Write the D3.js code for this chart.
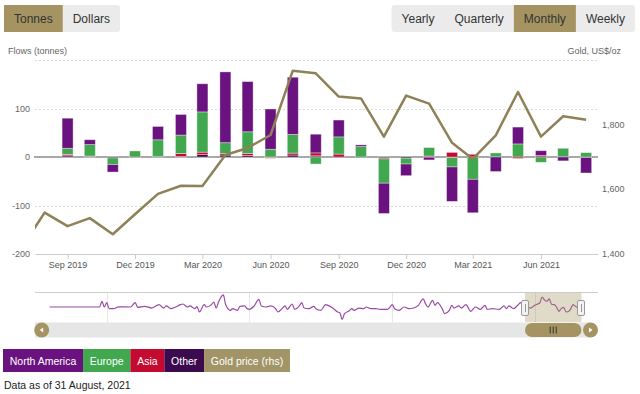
<!DOCTYPE html>
<html>
<head>
<meta charset="utf-8">
<script src="https://cdn.jsdelivr.net/npm/d3@7"></script>
<style>
body { margin: 0; background: #fff; }
svg { display: block; font-family: "Liberation Sans", Arial, sans-serif; }
</style>
</head>
<body>
<svg width="640" height="394"></svg>
<script>
// gold price, month end, US$/oz
var goldMonths = ["2019-07", "2019-08", "2019-09", "2019-10", "2019-11", "2019-12",
    "2020-01", "2020-02", "2020-03", "2020-04", "2020-05", "2020-06",
    "2020-07", "2020-08", "2020-09", "2020-10", "2020-11", "2020-12",
    "2021-01", "2021-02", "2021-03", "2021-04", "2021-05", "2021-06",
    "2021-07", "2021-08"];
var goldPrice = [1419, 1528, 1486, 1511, 1461, 1523, 1586, 1611, 1610, 1706, 1728, 1768,
    1967, 1959, 1887, 1881, 1763, 1890, 1865, 1744, 1694, 1767, 1901, 1763, 1826, 1815];

// flows (tonnes)
var flowMonths = ["2019-09", "2019-10", "2019-11", "2019-12",
    "2020-01", "2020-02", "2020-03", "2020-04", "2020-05", "2020-06",
    "2020-07", "2020-08", "2020-09", "2020-10", "2020-11", "2020-12",
    "2021-01", "2021-02", "2021-03", "2021-04", "2021-05", "2021-06",
    "2021-07", "2021-08"];
var northAmerica = [62, 10, -15.5, 0, 27.5, 42.5, 58, 146, 103.5, 83, 118, 38.5,
    34.7, 3.5, -62.5, -24, -5.5, -71, -69, -30, 34.7, 10, -8, -32];
var europe = [12.5, 23.6, -13.5, 12.5, 34, 38, 83, 22, 44.5, 16, 38.5, -14.5,
    35.5, 21.5, -50, -12, 17.5, -19, -46, 8.3, 27, -11, 18, 9];
var asia = [3, 0.5, 0, -1, 0, 6.2, 5, 3.5, 4.5, -1, 4, 6,
    6, 0, -2, 0, 2, 9.5, 5.5, 0, -3, 3, 0, -1];
var other = [2.5, 1.5, -2, 0, 1.5, 1, 5, 4, 3, -1.5, 4, 2.5,
    -1, -1, -2, -2.5, -0.5, -1.5, 0, 0, 0, 0, 0, 0];

// navigator history (north america, tonnes) before the chart window
var navMonths = ["2003-01", "2004-10", "2004-11", "2004-12", "2005-01", "2005-02", "2005-04", "2005-06",
    "2005-11", "2006-01", "2006-02", "2006-05", "2006-08", "2006-11", "2007-01", "2007-02",
    "2007-04", "2007-06", "2007-08", "2007-09", "2007-11", "2007-12", "2008-02", "2008-03",
    "2008-04", "2008-06", "2008-07", "2008-09", "2008-10", "2008-11", "2008-12", "2009-02",
    "2009-03", "2009-05", "2009-06", "2009-08", "2009-09", "2009-11", "2009-12", "2010-01",
    "2010-03", "2010-05", "2010-06", "2010-08", "2010-10", "2010-12", "2011-01", "2011-03",
    "2011-04", "2011-05", "2011-07", "2011-08", "2011-10", "2011-11", "2011-12", "2012-02",
    "2012-04", "2012-05", "2012-07", "2012-09", "2012-10", "2012-12", "2013-02", "2013-03",
    "2013-04", "2013-05", "2013-07", "2013-08", "2013-09", "2013-11", "2014-01", "2014-02",
    "2014-04", "2014-06", "2014-08", "2014-11", "2014-12", "2015-01", "2015-02", "2015-04",
    "2015-06", "2015-08", "2015-10", "2015-12", "2016-02", "2016-03", "2016-04", "2016-06",
    "2016-07", "2016-08", "2016-10", "2016-11", "2017-01", "2017-02", "2017-03", "2017-05",
    "2017-06", "2017-08", "2017-10", "2017-12", "2018-02", "2018-04", "2018-05", "2018-07",
    "2018-10", "2018-12", "2019-01", "2019-02", "2019-04", "2019-06", "2019-07", "2019-08"];
var navFlows = [0, 0, 83, 0, 63, -24, -24, 3,
    0, 63, -5, 10, -15, 34, -15, 15,
    -24, 0, 34, 44, 0, 15, -24, 5,
    -73, 34, 0, 34, 73, -15, 73, 178,
    40, -49, -24, -49, 10, 15, -24, -34,
    15, 112, 15, 0, 15, -24, -73, -15,
    15, -34, 44, -34, 15, 63, -15, -24,
    10, -24, -49, 34, 24, -15, -73, -83,
    -180, -97, -54, -24, -49, -15, -24, 0,
    -24, -24, -34, -34, -5, 34, -24, -49,
    0, -24, -15, 24, 120, 49, 0, 97,
    24, 63, -24, -97, -49, 24, -15, 15,
    -15, 34, -63, 0, -34, 24, -34, -24,
    -34, 15, -24, 15, -24, 34, 63, 24];

var xTicks = ["2019-09", "2019-12", "2020-03", "2020-06", "2020-09", "2020-12", "2021-03", "2021-06"];
var leftTicks = [-200, -100, 0, 100];
var rightTicks = [1400, 1600, 1800];
var gridTicks = [200, 100, -100];
var navYears = ["2005-01", "2010-01", "2015-01", "2020-01"];

var unitButtons = ["Tonnes", "Dollars"];
var periodButtons = ["Yearly", "Quarterly", "Monthly", "Weekly"];
var legendItems = ["North America", "Europe", "Asia", "Other", "Gold price (rhs)"];

var colors = {
    na: "#6a1380",
    europe: "#41a84f",
    asia: "#c40a30",
    other: "#3b0a4f",
    gold: "#8f8157",
    button: "#a59461"
};
var legendColors = [colors.na, colors.europe, colors.asia, colors.other, "#a19467"];

var parse = d3.utcParse("%Y-%m");
var svg = d3.select("svg");

var plot = {left: 35, right: 598, top: 60, bottom: 254};

var x = d3.scaleUtc()
    .domain([new Date(Date.UTC(2019, 6, 19)), new Date(Date.UTC(2021, 7, 17))])
    .range([plot.left, plot.right]);
var yL = d3.scaleLinear().domain([-200, 200]).range([plot.bottom, plot.top]);
var yR = d3.scaleLinear().domain([1400, 2000]).range([plot.bottom, plot.top]);

//
// buttons
//
function buttonRow(labels, active, left, right) {
    var g = svg.append("g");
    var widths = [];
    var tmp = g.selectAll(".tmp").data(labels).enter().append("text")
        .style("font-size", "12px")
        .text(function(d) { return d; });
    tmp.each(function() { widths.push(this.getComputedTextLength() + 20); });
    tmp.remove();
    var total = d3.sum(widths);
    var x0 = left != null ? left : right - total;
    g.append("rect")
        .attr("x", x0).attr("y", 5)
        .attr("width", total).attr("height", 27)
        .attr("rx", 3)
        .attr("fill", "#ebebeb");
    var pos = x0;
    labels.forEach(function(d, i) {
        if (d === active) {
            g.append("rect")
                .attr("x", pos).attr("y", 5)
                .attr("width", widths[i]).attr("height", 27)
                .attr("fill", colors.button);
        }
        g.append("text")
            .attr("x", pos + widths[i] / 2)
            .attr("y", 23)
            .attr("text-anchor", "middle")
            .style("font-size", "12px")
            .style("fill", "#333")
            .text(d);
        pos += widths[i];
    });
}
buttonRow(unitButtons, "Tonnes", 4, null);
buttonRow(periodButtons, "Monthly", null, 635);

// axis titles
svg.append("text")
    .attr("x", 8).attr("y", 54)
    .style("font-size", "9px").style("fill", "#666")
    .text("Flows (tonnes)");
svg.append("text")
    .attr("x", 621).attr("y", 54)
    .attr("text-anchor", "end")
    .style("font-size", "9px").style("fill", "#666")
    .text("Gold, US$/oz");

// gridlines
svg.append("g").selectAll("line").data(gridTicks).enter().append("line")
    .attr("x1", plot.left).attr("x2", plot.right)
    .attr("y1", function(d) { return Math.round(yL(d)) + 0.5; })
    .attr("y2", function(d) { return Math.round(yL(d)) + 0.5; })
    .attr("stroke", "#d9d9d9")
    .style("stroke-dasharray", "2,2");

// y labels
svg.append("g").selectAll("text").data(leftTicks).enter().append("text")
    .attr("x", 30)
    .attr("y", function(d) { return yL(d) + 3; })
    .attr("text-anchor", "end")
    .style("font-size", "9px").style("fill", "#666")
    .text(function(d) { return d; });
svg.append("g").selectAll("text").data(rightTicks).enter().append("text")
    .attr("x", 602)
    .attr("y", function(d) { return yR(d) + 3; })
    .style("font-size", "9px").style("fill", "#666")
    .text(function(d) { return d3.format(",")(d); });

// x axis
var xAxis = svg.append("g")
    .attr("transform", "translate(0," + plot.bottom + ")")
    .call(d3.axisBottom(x)
        .tickValues(xTicks.map(parse))
        .tickFormat(d3.utcFormat("%b %Y"))
        .tickSize(5)
        .tickSizeOuter(0));
xAxis.select(".domain").attr("stroke", "#ccc");
xAxis.selectAll(".tick line").attr("stroke", "#ccc");
xAxis.selectAll("text")
    .style("font-size", "9px")
    .style("font-family", "'Liberation Sans', Arial, sans-serif")
    .style("fill", "#555");

// zero line
svg.append("line")
    .attr("x1", plot.left - 1).attr("x2", plot.right)
    .attr("y1", yL(0)).attr("y2", yL(0))
    .attr("stroke", "#a8a8a8")
    .attr("stroke-width", 2);

//
// stacked bars
//
var rows = flowMonths.map(function(m, i) {
    return {date: parse(m), na: northAmerica[i], europe: europe[i], asia: asia[i], other: other[i]};
});
var stack = d3.stack()
    .keys(["other", "asia", "europe", "na"])
    .offset(d3.stackOffsetDiverging);
var series = stack(rows);
var barWidth = 11;

svg.append("g").selectAll("g").data(series).enter().append("g")
    .attr("fill", function(d) { return colors[d.key]; })
    .selectAll("rect").data(function(d) { return d; }).enter().append("rect")
    .attr("x", function(d) { return x(d.data.date) - barWidth / 2; })
    .attr("y", function(d) { return yL(Math.max(d[0], d[1])); })
    .attr("width", barWidth)
    .attr("height", function(d) { return Math.abs(yL(d[0]) - yL(d[1])); })
    .attr("stroke", "rgba(255,255,255,0.45)")
    .attr("stroke-width", 0.8);

// gold line
svg.append("clipPath").attr("id", "plotclip")
    .append("rect")
    .attr("x", plot.left).attr("y", plot.top - 10)
    .attr("width", plot.right - plot.left).attr("height", plot.bottom - plot.top + 20);

var goldLine = d3.line()
    .x(function(d, i) { return x(parse(goldMonths[i])); })
    .y(function(d) { return yR(d); });

svg.append("path")
    .datum(goldPrice)
    .attr("clip-path", "url(#plotclip)")
    .attr("d", goldLine)
    .attr("fill", "none")
    .attr("stroke", colors.gold)
    .attr("stroke-width", 2.5)
    .attr("stroke-linejoin", "round");

//
// navigator
//
var navX = d3.scaleUtc()
    .domain([parse("2005-01"), parse("2020-01")])
    .range([106.7, 535]);
var navY = d3.scaleLinear().domain([-219, 219]).range([322, 292]);

var navPoints = navMonths.map(function(m, i) {
    return {date: parse(m), value: navFlows[i]};
}).concat(rows.map(function(r) {
    return {date: r.date, value: r.na};
}));

var nav = svg.append("g");
nav.selectAll(".year").data(navYears).enter().append("line")
    .attr("x1", function(d) { return Math.round(navX(parse(d))) + 0.5; })
    .attr("x2", function(d) { return Math.round(navX(parse(d))) + 0.5; })
    .attr("y1", 292).attr("y2", 322)
    .attr("stroke", "#e6e6e6");
nav.append("line")
    .attr("x1", plot.left).attr("x2", plot.right)
    .attr("y1", 292.5).attr("y2", 292.5)
    .attr("stroke", "#cccccc");

nav.append("path")
    .datum(navPoints)
    .attr("d", d3.line()
        .x(function(d) { return navX(d.date); })
        .y(function(d) { return navY(d.value); })
        .curve(d3.curveMonotoneX))
    .attr("fill", "none")
    .attr("stroke", "#9a4aa6")
    .attr("stroke-width", 1.2);

var selLeft = navX(x.domain()[0]) + 3;
var selRight = navX(x.domain()[1]);
nav.append("rect")
    .attr("x", selLeft).attr("y", 293)
    .attr("width", selRight - selLeft).attr("height", 29)
    .attr("fill", "rgba(165,148,97,0.35)");

[selLeft, selRight].forEach(function(hx) {
    nav.append("rect")
        .attr("x", Math.round(hx) - 3.5).attr("y", 300.5)
        .attr("width", 7).attr("height", 15)
        .attr("rx", 1.5)
        .attr("fill", "#f2f2f2")
        .attr("stroke", "#999");
    nav.append("line")
        .attr("x1", Math.round(hx) + 0.5).attr("x2", Math.round(hx) + 0.5)
        .attr("y1", 304).attr("y2", 312)
        .attr("stroke", "#999");
});

// scrollbar
nav.append("rect")
    .attr("x", plot.left).attr("y", 322.5)
    .attr("width", plot.right - plot.left - 8).attr("height", 15)
    .attr("fill", "#e6e6e6");
nav.append("rect")
    .attr("x", selLeft).attr("y", 323)
    .attr("width", selRight - selLeft).attr("height", 14)
    .attr("rx", 7)
    .attr("fill", colors.button);
[-3, 0, 3].forEach(function(dx) {
    nav.append("line")
        .attr("x1", (selLeft + selRight) / 2 + dx).attr("x2", (selLeft + selRight) / 2 + dx)
        .attr("y1", 326.5).attr("y2", 333.5)
        .attr("stroke", "#333");
});
[[41.7, -1], [590.5, 1]].forEach(function(b) {
    nav.append("circle")
        .attr("cx", b[0]).attr("cy", 330)
        .attr("r", 7.5)
        .attr("fill", colors.button);
    nav.append("path")
        .attr("d", "M" + (b[0] + 2 * b[1]) + ",330 L" + (b[0] - 1.5 * b[1]) + ",327.5 L" + (b[0] - 1.5 * b[1]) + ",332.5 Z")
        .attr("fill", "#fff");
});

//
// legend
//
var legend = svg.append("g");
var lx = 3;
legendItems.forEach(function(d, i) {
    var t = legend.append("text")
        .attr("y", 365)
        .style("font-size", "10.5px")
        .style("fill", "#fff")
        .text(d);
    var w = t.node().getComputedTextLength() + 13.5;
    legend.insert("rect", "text")
        .attr("x", lx).attr("y", 349)
        .attr("width", w).attr("height", 23)
        .attr("fill", legendColors[i]);
    t.attr("x", lx + 6.75);
    lx += w;
});

svg.append("text")
    .attr("x", 4).attr("y", 389)
    .style("font-size", "10.5px")
    .style("fill", "#222")
    .text("Data as of 31 August, 2021");
</script>
</body>
</html>
